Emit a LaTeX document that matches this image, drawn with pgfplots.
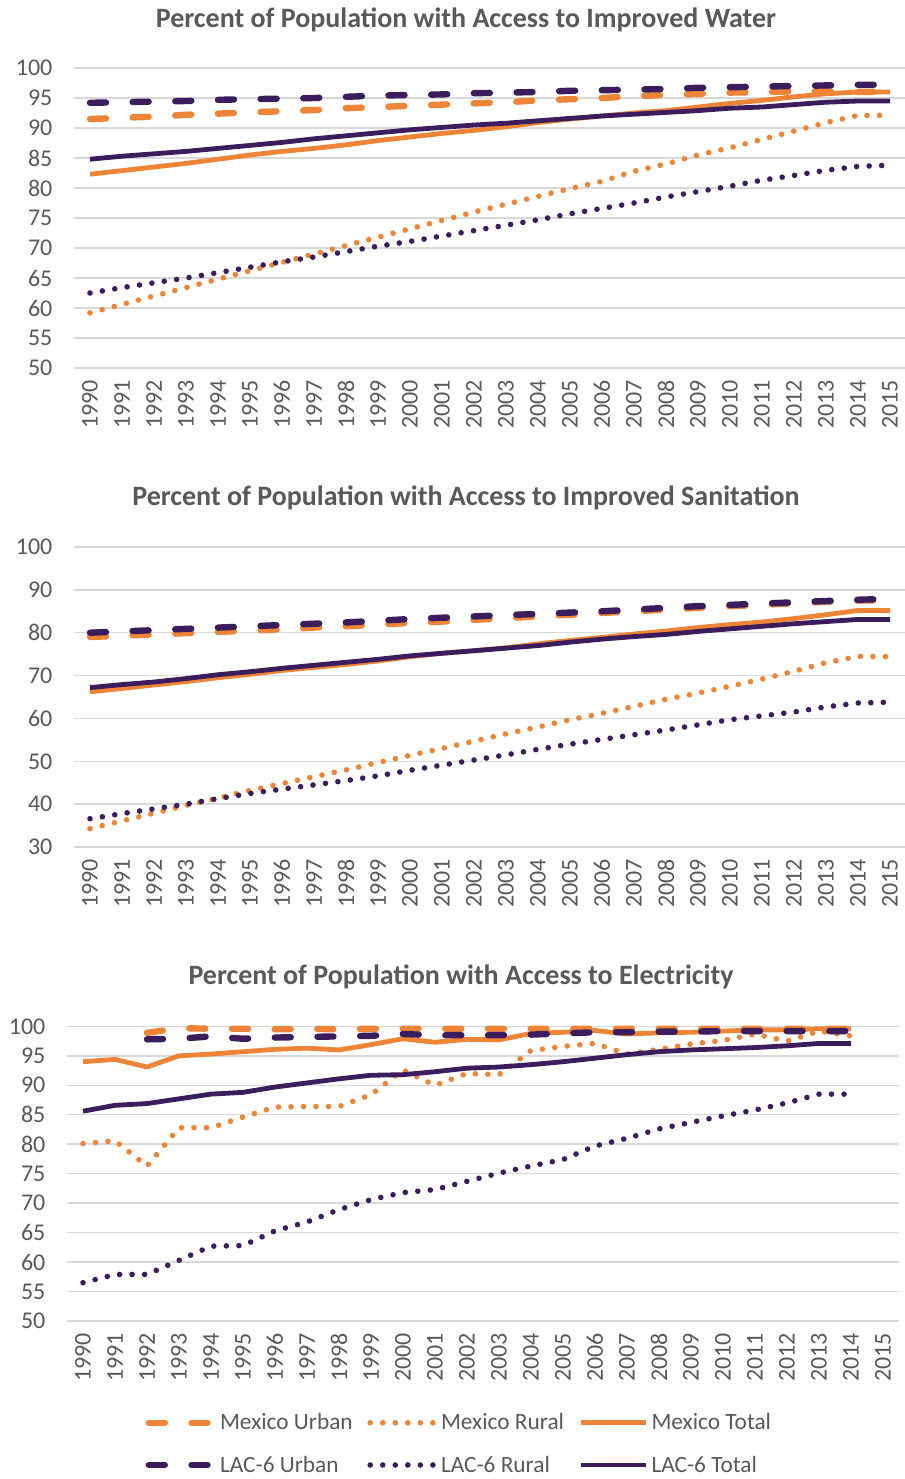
\documentclass[border=0pt]{standalone}
\usepackage{pgfplots}
\pgfplotsset{compat=1.18}
\usepackage{pgfplotstable}
\usepackage{fontspec}
\setmainfont{Carlito}

\definecolor{mxorange}{HTML}{EE8436}
\definecolor{lacpurple}{HTML}{3B1D5E}
\definecolor{txtgray}{HTML}{595959}
\definecolor{gridgray}{HTML}{D9D9D9}

% pixel position in the reference -> tikz point (1px = 0.75pt, y downwards)
\newcommand\px[2]{({#1*0.75pt},{-#2*0.75pt})}

% columns: mu/mr/mt = Mexico urban/rural/total, lu/lr/lt = LAC-6
\pgfplotstableread{
year mu mr mt lu lr lt
1990 91.5 59.2 82.3 94.2 62.5 84.8
1991 91.7 60.6 82.9 94.3 63.4 85.3
1992 91.9 62.0 83.5 94.4 64.2 85.7
1993 92.2 63.4 84.1 94.5 65.0 86.1
1994 92.4 64.8 84.8 94.7 65.9 86.6
1995 92.6 66.2 85.5 94.8 66.8 87.1
1996 92.8 67.6 86.1 94.9 67.7 87.6
1997 93.0 69.0 86.6 95.0 68.5 88.2
1998 93.3 70.4 87.2 95.2 69.4 88.7
1999 93.5 71.8 87.9 95.4 70.3 89.2
2000 93.7 73.2 88.5 95.5 71.1 89.7
2001 93.9 74.6 89.1 95.6 72.0 90.1
2002 94.1 76.0 89.6 95.8 72.9 90.5
2003 94.3 77.3 90.2 95.9 73.8 90.8
2004 94.6 78.6 90.9 96.0 74.7 91.2
2005 94.8 79.9 91.5 96.2 75.7 91.6
2006 95.0 81.1 92.0 96.3 76.6 92.0
2007 95.3 82.8 92.5 96.4 77.5 92.3
2008 95.5 84.0 92.9 96.5 78.5 92.6
2009 95.7 85.5 93.5 96.7 79.4 92.9
2010 95.9 86.7 94.1 96.8 80.3 93.3
2011 96.0 88.1 94.6 96.9 81.3 93.5
2012 96.1 89.5 95.2 97.0 82.1 93.9
2013 96.1 90.9 95.7 97.1 82.95 94.3
2014 96.0 92.1 96.0 97.2 83.6 94.5
2015 96.0 92.1 96.0 97.2 83.8 94.5
}\watertab

\pgfplotstableread{
year mu mr mt lu lr lt
1990 79.0 34.3 66.2 80.0 36.6 67.2
1991 79.3 36.1 67.0 80.3 37.8 67.9
1992 79.6 37.9 67.8 80.6 38.9 68.5
1993 79.9 39.7 68.6 80.9 40.0 69.3
1994 80.2 41.4 69.5 81.2 41.3 70.2
1995 80.5 43.2 70.3 81.5 42.5 70.9
1996 80.8 44.8 71.2 81.8 43.5 71.7
1997 81.2 46.4 71.9 82.1 44.5 72.4
1998 81.5 48.0 72.6 82.4 45.5 73.1
1999 81.9 49.7 73.4 82.8 46.6 73.8
2000 82.3 51.4 74.4 83.2 47.9 74.6
2001 82.6 53.0 75.2 83.5 49.1 75.2
2002 83.0 54.7 75.8 83.8 50.3 75.8
2003 83.4 56.4 76.5 84.1 51.5 76.4
2004 83.8 58.0 77.4 84.4 52.8 77.0
2005 84.2 59.7 78.2 84.7 54.0 77.8
2006 84.6 61.2 78.9 85.0 55.1 78.5
2007 85.0 62.8 79.7 85.4 56.2 79.1
2008 85.4 64.5 80.4 85.8 57.3 79.6
2009 85.8 65.9 81.2 86.2 58.5 80.3
2010 86.2 67.5 81.9 86.5 59.7 80.9
2011 86.5 69.2 82.5 86.8 60.6 81.5
2012 86.9 71.0 83.3 87.1 61.5 82.1
2013 87.2 73.0 84.2 87.4 62.7 82.6
2014 87.5 74.5 85.2 87.7 63.6 83.1
2015 87.6 74.4 85.2 87.9 63.8 83.1
}\sanitab

\pgfplotstableread{
year mu mr mt lu lr lt
1990 nan 80.1 94.0 nan 56.5 85.6
1991 nan 80.6 94.4 nan 57.9 86.6
1992 98.9 76.3 93.1 97.8 57.9 86.9
1993 99.7 82.8 95.0 97.9 60.3 87.7
1994 99.6 82.8 95.3 98.3 62.7 88.5
1995 99.6 84.6 95.7 97.9 62.8 88.8
1996 99.5 86.3 96.1 98.1 65.3 89.7
1997 99.6 86.4 96.3 98.2 66.8 90.4
1998 99.5 86.4 96.0 98.3 68.9 91.1
1999 99.6 88.4 96.9 98.4 70.6 91.7
2000 99.6 92.6 97.9 98.7 71.8 91.8
2001 99.6 90.0 97.3 98.5 72.3 92.3
2002 99.6 92.0 97.8 98.5 73.7 92.9
2003 99.6 91.8 97.7 98.5 75.1 93.1
2004 99.6 95.9 98.8 98.6 76.3 93.5
2005 99.6 96.6 99.0 98.8 77.4 94.0
2006 99.6 97.1 99.3 99.0 79.7 94.6
2007 99.6 95.3 98.7 99.0 81.0 95.2
2008 99.6 96.1 98.9 99.1 82.6 95.7
2009 99.6 97.0 99.0 99.1 83.7 96.0
2010 99.6 97.6 99.2 99.2 84.8 96.2
2011 99.6 98.7 99.4 99.2 85.8 96.4
2012 99.6 97.5 99.4 99.2 87.0 96.7
2013 99.6 99.2 99.6 99.2 88.5 97.1
2014 99.6 98.4 99.6 99.2 88.5 97.1
}\electab

\pgfplotsset{
  panel/.style={
    scale only axis, width=624pt,
    xmin=1989.5, xmax=2015.5, xtick={1990,...,2015},
    axis line style={draw=none}, major tick length=0pt,
    ymajorgrids, grid style={gridgray, line width=1.1pt},
    tick label style={font=\fontsize{18}{20}\selectfont, text=txtgray},
    /pgf/number format/assume math mode=true,
    /pgf/number format/1000 sep={},
    xticklabel style={yshift=-9pt, rotate=90, anchor=east, inner sep=0pt},
    yticklabel style={anchor=east, inner sep=0pt, xshift=-16pt},
    clip=false,
    unbounded coords=jump,
    legend image code/.code={\draw[##1] (0pt,0pt) -- (49pt,0pt);},
  },
  urb/.style={line width=4.8pt, dash pattern=on 12pt off 20pt, line cap=round},
  rur/.style={line width=4.2pt, dash pattern=on 0pt off 9.4pt, line cap=round},
  tot/.style={line width=3.6pt, line join=round},
}

\newcommand\charttitle{\fontsize{21}{24}\selectfont\bfseries}

\begin{document}
\begin{tikzpicture}
\useasboundingbox (0pt,0pt) rectangle (678pt,-1109.25pt);

\node[font=\charttitle, text=txtgray] at \px{466}{20} {Percent of Population with Access to Improved Water};
\begin{axis}[panel, at={(55.5pt,-276pt)}, anchor=south west, height=225pt,
    ymin=50, ymax=100, ytick={50,55,...,100}]
  \addplot[mxorange, urb] table[x=year, y=mu] {\watertab};
  \addplot[mxorange, rur] table[x=year, y=mr] {\watertab};
  \addplot[mxorange, tot] table[x=year, y=mt] {\watertab};
  \addplot[lacpurple, urb] table[x=year, y=lu] {\watertab};
  \addplot[lacpurple, rur] table[x=year, y=lr] {\watertab};
  \addplot[lacpurple, tot] table[x=year, y=lt] {\watertab};
\end{axis}

\node[font=\charttitle, text=txtgray] at \px{466}{498} {Percent of Population with Access to Improved Sanitation};
\begin{axis}[panel, at={(55.5pt,-635.25pt)}, anchor=south west, height=225pt,
    ymin=30, ymax=100, ytick={30,40,...,100}]
  \addplot[mxorange, urb] table[x=year, y=mu] {\sanitab};
  \addplot[mxorange, rur] table[x=year, y=mr] {\sanitab};
  \addplot[mxorange, tot] table[x=year, y=mt] {\sanitab};
  \addplot[lacpurple, urb] table[x=year, y=lu] {\sanitab};
  \addplot[lacpurple, rur] table[x=year, y=lr] {\sanitab};
  \addplot[lacpurple, tot] table[x=year, y=lt] {\sanitab};
\end{axis}

\node[font=\charttitle, text=txtgray] at \px{461}{977} {Percent of Population with Access to Electricity};
\begin{axis}[panel, at={(50.25pt,-990.75pt)}, anchor=south west, height=221pt,
    ymin=50, ymax=100, ytick={50,55,...,100},
    legend style={at={(0.472,-0.417)}, anchor=center, draw=none, fill=none,
      legend columns=3, font=\fontsize{17.5}{20}\selectfont, text=txtgray,
      /tikz/every even column/.append style={column sep=9pt},
      row sep=14pt, legend cell align=left}]
  \addplot[mxorange, urb] table[x=year, y=mu] {\electab};
  \addplot[mxorange, rur] table[x=year, y=mr] {\electab};
  \addplot[mxorange, tot] table[x=year, y=mt] {\electab};
  \addplot[lacpurple, urb] table[x=year, y=lu] {\electab};
  \addplot[lacpurple, rur] table[x=year, y=lr] {\electab};
  \addplot[lacpurple, tot] table[x=year, y=lt] {\electab};
  \legend{Mexico Urban, Mexico Rural, Mexico Total, LAC-6 Urban, LAC-6 Rural, LAC-6 Total}
\end{axis}
\end{tikzpicture}
\end{document}
